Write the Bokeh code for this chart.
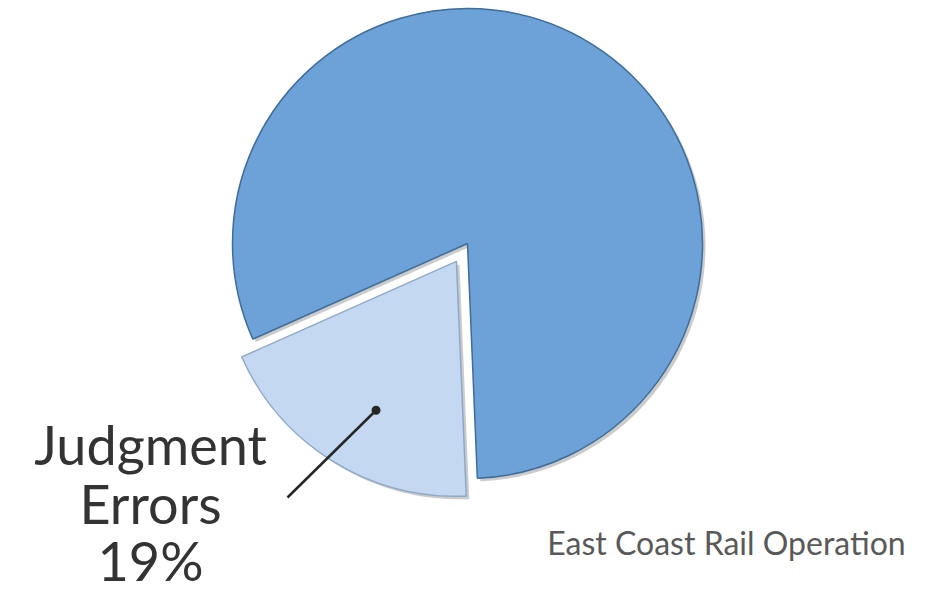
import math
from bokeh.plotting import figure
from bokeh.models import Range1d
from bokeh.core.properties import value
from bokeh.embed import file_html
from bokeh.resources import INLINE

# ---- data ----
categories = ["Other", "Judgment Errors"]
shares = [81, 19]
colors = ["#6CA2D7", "#C4D9F1"]
edge_colors = ["#3F6C99", "#8EA9C8"]
label_lines = ["Judgment", "Errors", "19%"]
source_text = "East Coast Rail Operation"

W, H = 928, 594
p = figure(width=W, height=H, output_backend="svg", toolbar_location=None,
           x_range=Range1d(0, W), y_range=Range1d(0, H), min_border=0)
p.axis.visible = False
p.grid.visible = False
p.outline_line_color = None
p.background_fill_color = "white"

def sy(y):
    return H - y

cx, cy, R = 467, sy(243), 235
explode = [0, 21]
start = math.radians(-87.6)
total = sum(shares)
angles = []
a = start
for s in shares:
    span = 2 * math.pi * s / total
    angles.append((a, a + span))
    a += span

for i, (a0, a1) in enumerate(angles):
    mid = (a0 + a1) / 2
    ox = cx + explode[i] * math.cos(mid)
    oy = cy + explode[i] * math.sin(mid)
    p.wedge(x=ox + 3, y=oy - 3, radius=R, start_angle=a0, end_angle=a1,
            fill_color="#6a6a6a", fill_alpha=0.35, line_color=None)
    p.wedge(x=ox, y=oy, radius=R, start_angle=a0, end_angle=a1,
            fill_color=colors[i], line_color=edge_colors[i], line_width=1.5)

# label for the small slice
a0, a1 = angles[1]
mid = (a0 + a1) / 2
ox = cx + explode[1] * math.cos(mid)
oy = cy + explode[1] * math.sin(mid)
dot_x = ox + 0.72 * R * math.cos(mid + 0.06)
dot_y = oy + 0.72 * R * math.sin(mid + 0.06)
line_end_x, line_end_y = 287, sy(497)
p.line(x=[dot_x, line_end_x], y=[dot_y, line_end_y], line_color="#262626", line_width=2.5)
p.scatter(x=[dot_x], y=[dot_y], size=9, fill_color="#262626", line_color=None)

lab_x = 150
ys = [sy(444), sy(503), sy(560)]
p.text(x=[lab_x] * 3, y=ys, text=label_lines, text_align="center",
       text_baseline="alphabetic", text_font=value("Lato"),
       text_font_size="54px", text_color="#333333")

p.text(x=[726], y=[sy(542)], text=[source_text], text_align="center",
       text_baseline="alphabetic", text_font=value("Lato"),
       text_font_size="32px", text_color="#595959")

open("out.html", "w").write(file_html(p, INLINE))
